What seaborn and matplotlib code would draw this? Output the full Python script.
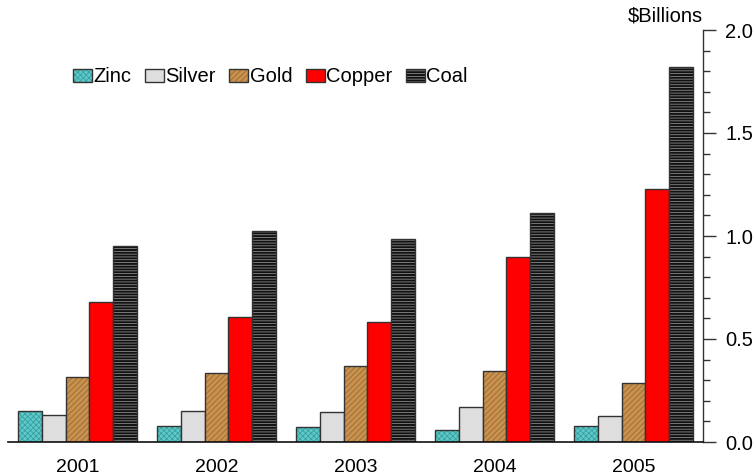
import numpy as np
import pandas as pd
import matplotlib.pyplot as plt
import seaborn as sns
from matplotlib.colors import to_rgba
from matplotlib.ticker import MultipleLocator

# data ($ billions)
years = ['2001', '2002', '2003', '2004', '2005']
metals = ['Zinc', 'Silver', 'Gold', 'Copper', 'Coal']
zinc = [0.150, 0.079, 0.073, 0.060, 0.078]
silver = [0.131, 0.149, 0.146, 0.168, 0.126]
gold = [0.316, 0.335, 0.370, 0.345, 0.284]
copper = [0.681, 0.605, 0.583, 0.900, 1.230]
coal = [0.951, 1.024, 0.987, 1.113, 1.820]

face = ['#5ec9c9', '#dedede', '#c8914e', '#ff0000', '#111111']
hatches = ['xxxxxx', None, '//////', None, '------']
hatch_col = ['#3a9f9f', None, '#9a6a34', None, '#8a8a8a']

df = pd.DataFrame({
    'year': np.repeat(years, len(metals)),
    'metal': metals * len(years),
    'value': np.column_stack([zinc, silver, gold, copper, coal]).ravel(),
})

sns.set_theme(style='white')
plt.rcParams['font.family'] = ['Liberation Sans', 'DejaVu Sans']
plt.rcParams['hatch.linewidth'] = 0.6
plt.rcParams['text.color'] = 'black'
plt.rcParams['xtick.color'] = 'black'
plt.rcParams['ytick.color'] = 'black'

fig = plt.figure(figsize=(7.53, 4.76), dpi=100)
ax = fig.add_axes([8 / 753, 34 / 476, 695 / 753, 412 / 476])

sns.barplot(data=df, x='year', y='value', hue='metal', hue_order=metals,
            palette=face, width=0.857, edgecolor='#333333', linewidth=1.0,
            saturation=1, ax=ax, legend=False)

for i, cont in enumerate(ax.containers):
    for p in cont.patches:
        if hatches[i]:
            p.set_hatch(hatches[i])
            p._hatch_color = to_rgba(hatch_col[i])

ax.set_xlim(-0.5, 4.5)
ax.set_ylim(0, 2.0)
ax.set_xlabel('')
ax.set_ylabel('')

ax.yaxis.tick_right()
ax.yaxis.set_major_locator(MultipleLocator(0.5))
ax.yaxis.set_minor_locator(MultipleLocator(0.1))
ax.yaxis.set_major_formatter(plt.FormatStrFormatter('%.1f'))
ax.tick_params(axis='y', which='major', direction='out', length=9, width=1,
               color='#333333', labelsize=14.5, labelcolor='black', pad=7,
               right=True, left=False)
ax.tick_params(axis='y', which='minor', direction='out', length=5, width=1,
               color='#333333', right=True, left=False)
ax.tick_params(axis='x', length=0, labelsize=14, labelcolor='black', pad=12)

for s in ['top', 'left']:
    ax.spines[s].set_visible(False)
ax.spines['right'].set_color('#333333')
ax.spines['bottom'].set_color('#111111')
ax.spines['right'].set_linewidth(1)
ax.spines['bottom'].set_linewidth(1.2)

ax.text(1.0, 1.01, '$Billions', transform=ax.transAxes, ha='right',
        va='bottom', fontsize=14.5, color='black')

ax.legend(ax.containers, metals, loc='center left', bbox_to_anchor=(0.0935, 0.886),
          ncol=5, frameon=False, fontsize=14.5, handlelength=0.95,
          handleheight=0.65, handletextpad=0.08, columnspacing=0.65,
          borderaxespad=0, borderpad=0)

fig.savefig('out.png', dpi=100)
